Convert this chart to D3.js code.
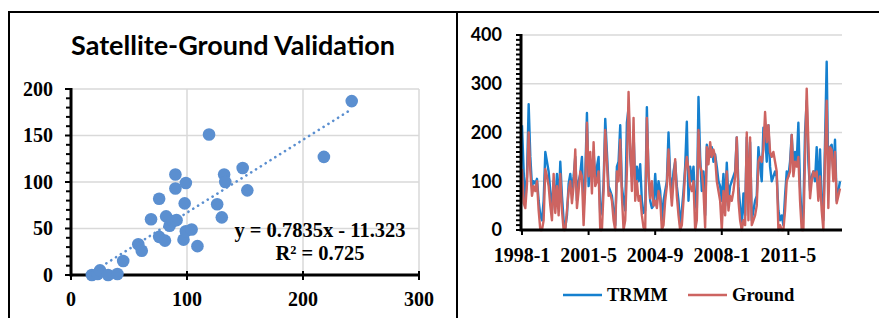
<!DOCTYPE html>
<html>
<head>
<meta charset="utf-8">
<script src="https://cdn.jsdelivr.net/npm/d3@7"></script>
<style>
  html, body { margin: 0; padding: 0; background: #fff; }
  svg { display: block; }
</style>
</head>
<body>
<div id="chart"></div>
<script>
// ---- data ----
const scatterX = [18, 23, 25, 32, 40, 45, 58, 61, 69, 76, 76, 81, 82, 85, 88, 91, 90, 90, 99, 98, 97, 99, 104, 109, 119, 126, 130, 132, 133, 148, 152, 218, 242];
const scatterY = [0, 1, 5, 0, 1, 15, 33, 26, 60, 82, 41, 37, 63, 53, 58, 59, 93, 108, 99, 77, 38, 47, 49, 31, 151, 76, 62, 108, 100, 115, 91, 127, 187];
const slope = 0.7835, intercept = -11.323;
const equationLines = ['y = 0.7835x - 11.323', 'R² = 0.725'];

// monthly series, 1998-1 .. 2013-12
const trmm = [
  215, 120, 60, 110, 258, 150, 90, 100, 95, 105, 60, 30,
  20, 60, 160, 140, 120, 80, 40, 100, 50, 115, 45, 140,
  70, 20, 5, 30, 95, 115, 80, 110, 150, 60, 100, 115,
  150, 40, 110, 240, 90, 130, 110, 160, 100, 130, 150, 30,
  40, 95, 228, 160, 90, 80, 70, 40, 10, 130, 140, 215,
  90, 60, 40, 220, 250, 150, 110, 200, 90, 130, 100, 135,
  60, 35, 40, 252, 110, 60, 45, 50, 115, 60, 100, 80,
  20, 60, 80, 100, 200, 110, 80, 120, 140, 90, 60, 10,
  40, 80, 130, 222, 60, 130, 100, 130, 60, 40, 273, 150,
  80, 120, 30, 175, 160, 150, 170, 140, 155, 130, 100, 90,
  60, 115, 50, 138, 60, 90, 100, 110, 120, 190, 90, 50,
  5, 75, 30, 190, 60, 180, 20, 40, 60, 70, 170, 130,
  100, 210, 200, 140, 215, 130, 100, 110, 120, 110, 40, 20,
  30, 10, 70, 120, 110, 140, 195, 130, 160, 140, 220, 90,
  20, 40, 200, 265, 140, 80, 110, 120, 100, 170, 70, 165,
  60, 20, 180, 345, 100, 170, 175, 120, 185, 60, 80, 100
];
const ground = [
  125, 55, 45, 95, 200, 120, 70, 90, 80, 100, 40, 0,
  0, 20, 125, 110, 90, 50, 20, 115, 35, 90, 30, 115,
  40, 0, 0, 40, 80, 100, 55, 90, 165, 45, 80, 120,
  110, 10, 90, 220, 110, 160, 75, 180, 90, 100, 120, 0,
  0, 80, 205, 140, 70, 75, 60, 20, 0, 120, 100, 185,
  70, 0, 20, 120, 283, 170, 80, 230, 60, 100, 60, 70,
  30, 5, 0, 230, 120, 65, 100, 50, 60, 45, 80, 65,
  0, 10, 60, 90, 165, 95, 50, 100, 145, 70, 30, 0,
  10, 60, 120, 150, 125, 90, 80, 100, 0, 20, 205, 130,
  120, 80, 5, 170, 135, 180, 150, 165, 150, 100, 80, 60,
  0, 80, 30, 120, 40, 70, 60, 80, 110, 190, 60, 20,
  0, 20, 10, 200, 20, 190, 10, 20, 30, 50, 140, 150,
  140, 165, 242, 180, 215, 160, 150, 160, 140, 120, 0, 10,
  0, 0, 40, 100, 110, 120, 195, 110, 140, 130, 150, 60,
  0, 0, 150, 290, 180, 65, 100, 120, 110, 120, 60, 110,
  40, 0, 150, 265, 45, 170, 165, 100, 160, 55, 70, 85
];
const monthLabels = ['1998-1', '2001-5', '2004-9', '2008-1', '2011-5'];
const monthTickIdx = [0, 40, 80, 120, 160];
const seriesNames = ['TRMM', 'Ground'];
const seriesColors = ['#1580CF', '#CD6461'];

// ---- setup ----
const W = 879, H = 318;
const svg = d3.select('#chart').append('svg')
  .attr('width', W).attr('height', H);

const serif = '"Liberation Serif", "Times New Roman", serif';
const sans = 'Lato, "Open Sans", sans-serif';
const grid = '#D9D9D9';
const dotColor = '#5B8FD0';

// panel borders
svg.append('path')
  .attr('d', `M9,319 V12 H880 M457,12 V319`)
  .attr('fill', 'none').attr('stroke', '#000').attr('stroke-width', 2);

// ========== left: scatter ==========
const xS = d3.scaleLinear().domain([0, 300]).range([71, 419]);
const yS = d3.scaleLinear().domain([0, 200]).range([275, 89]);
const left = svg.append('g');

left.append('text')
  .attr('x', 233).attr('y', 55)
  .attr('text-anchor', 'middle')
  .attr('font-family', sans).attr('font-weight', 700).attr('font-size', 26)
  .attr('textLength', 324).attr('lengthAdjust', 'spacingAndGlyphs')
  .text('Satellite-Ground Validation');

// grid
left.append('g').selectAll('line').data([100, 200, 300]).join('line')
  .attr('x1', d => xS(d)).attr('x2', d => xS(d))
  .attr('y1', yS(200)).attr('y2', yS(0))
  .attr('stroke', grid).attr('stroke-width', 1.5);
left.append('g').selectAll('line').data([50, 100, 150, 200]).join('line')
  .attr('x1', xS(0)).attr('x2', xS(300))
  .attr('y1', d => yS(d)).attr('y2', d => yS(d))
  .attr('stroke', grid).attr('stroke-width', 1.5);

// y axis
left.append('g').selectAll('line').data(d3.range(0, 201, 10)).join('line')
  .attr('x1', xS(0)).attr('x2', d => xS(0) - (d % 50 === 0 ? 6 : 5))
  .attr('y1', d => yS(d)).attr('y2', d => yS(d))
  .attr('stroke', '#000').attr('stroke-width', 2);
left.append('line')
  .attr('x1', xS(0)).attr('x2', xS(0)).attr('y1', yS(200) - 1).attr('y2', yS(0) + 1.5)
  .attr('stroke', '#000').attr('stroke-width', 3);
left.append('g').selectAll('text').data([0, 50, 100, 150, 200]).join('text')
  .attr('x', 53).attr('y', d => yS(d)).attr('dy', '0.34em')
  .attr('text-anchor', 'end')
  .attr('font-family', serif).attr('font-weight', 700).attr('font-size', 20)
  .text(d => d);

// x axis
left.append('g').selectAll('line').data([0, 100, 200, 300]).join('line')
  .attr('x1', d => xS(d)).attr('x2', d => xS(d))
  .attr('y1', yS(0) - 4).attr('y2', yS(0) + 5)
  .attr('stroke', '#000').attr('stroke-width', 2);
left.append('line')
  .attr('x1', xS(0)).attr('x2', xS(300)).attr('y1', yS(0)).attr('y2', yS(0))
  .attr('stroke', '#000').attr('stroke-width', 3);
left.append('g').selectAll('text').data([0, 100, 200, 300]).join('text')
  .attr('x', d => xS(d)).attr('y', 306)
  .attr('text-anchor', 'middle')
  .attr('font-family', serif).attr('font-weight', 700).attr('font-size', 20)
  .text(d => d);

// points
const pts = scatterX.map((x, i) => ({ x, y: scatterY[i] }));
left.append('g').selectAll('circle').data(pts).join('circle')
  .attr('cx', d => xS(d.x)).attr('cy', d => yS(d.y))
  .attr('r', 6.3)
  .attr('fill', dotColor);

// trendline
const xExt = d3.extent(scatterX);
left.append('line')
  .attr('x1', xS(xExt[0])).attr('y1', yS(Math.max(0, slope * xExt[0] + intercept)))
  .attr('x2', xS(xExt[1])).attr('y2', yS(slope * xExt[1] + intercept))
  .attr('stroke', dotColor).attr('stroke-width', 2.6)
  .attr('stroke-linecap', 'round').attr('stroke-dasharray', '0.1,5.6');

left.append('g').selectAll('text').data(equationLines).join('text')
  .attr('x', 320).attr('y', (d, i) => 237 + i * 23)
  .attr('text-anchor', 'middle')
  .attr('font-family', serif).attr('font-weight', 700).attr('font-size', 20.5)
  .text(d => d);

// ========== right: time series ==========
const xT = d3.scaleLinear().domain([0, 191]).range([522, 840]);
const yT = d3.scaleLinear().domain([0, 400]).range([230, 35]);
const right = svg.append('g');

right.append('g').selectAll('line').data([100, 200, 300, 400]).join('line')
  .attr('x1', 521).attr('x2', 842)
  .attr('y1', d => yT(d)).attr('y2', d => yT(d))
  .attr('stroke', grid).attr('stroke-width', 1.5);

// y axis minor/major ticks
right.append('g').selectAll('line').data(d3.range(0, 401, 10)).join('line')
  .attr('x1', 521).attr('x2', 516)
  .attr('y1', d => yT(d)).attr('y2', d => yT(d))
  .attr('stroke', '#000').attr('stroke-width', 2);
right.append('g').selectAll('text').data([0, 100, 200, 300, 400]).join('text')
  .attr('x', 502).attr('y', d => yT(d)).attr('dy', '0.36em')
  .attr('text-anchor', 'end')
  .attr('font-family', sans).attr('font-weight', 700).attr('font-size', 18)
  .text(d => d);

// lines
const lineGen = d3.line().x((d, i) => xT(i)).y(d => yT(d));
[trmm, ground].forEach((s, k) => {
  right.append('path')
    .datum(s)
    .attr('d', lineGen)
    .attr('fill', 'none')
    .attr('stroke', seriesColors[k]).attr('stroke-width', 2.4)
    .attr('stroke-linejoin', 'round');
});

// axes lines on top
right.append('line')
  .attr('x1', 521).attr('x2', 521).attr('y1', yT(400) - 1).attr('y2', yT(0) + 1.5)
  .attr('stroke', '#000').attr('stroke-width', 3);
right.append('line')
  .attr('x1', 521).attr('x2', 842).attr('y1', yT(0)).attr('y2', yT(0))
  .attr('stroke', '#000').attr('stroke-width', 3);
right.append('g').selectAll('line').data(monthTickIdx).join('line')
  .attr('x1', d => xT(d)).attr('x2', d => xT(d))
  .attr('y1', yT(0)).attr('y2', yT(0) + 5)
  .attr('stroke', '#000').attr('stroke-width', 2);
right.append('g').selectAll('text').data(monthTickIdx).join('text')
  .attr('x', d => xT(d)).attr('y', 262)
  .attr('text-anchor', 'middle')
  .attr('font-family', serif).attr('font-weight', 700).attr('font-size', 20)
  .text((d, i) => monthLabels[i]);

// legend
const legX = [563, 688];
const leg = right.append('g').selectAll('g').data(seriesNames).join('g')
  .attr('transform', (d, i) => `translate(${legX[i]},295)`);
leg.append('line')
  .attr('x1', 0).attr('x2', 39)
  .attr('stroke', (d, i) => seriesColors[i]).attr('stroke-width', 2.4);
leg.append('text')
  .attr('x', 44).attr('dy', '0.34em')
  .attr('font-family', serif).attr('font-weight', 700).attr('font-size', 18.5)
  .text(d => d);
</script>
</body>
</html>
